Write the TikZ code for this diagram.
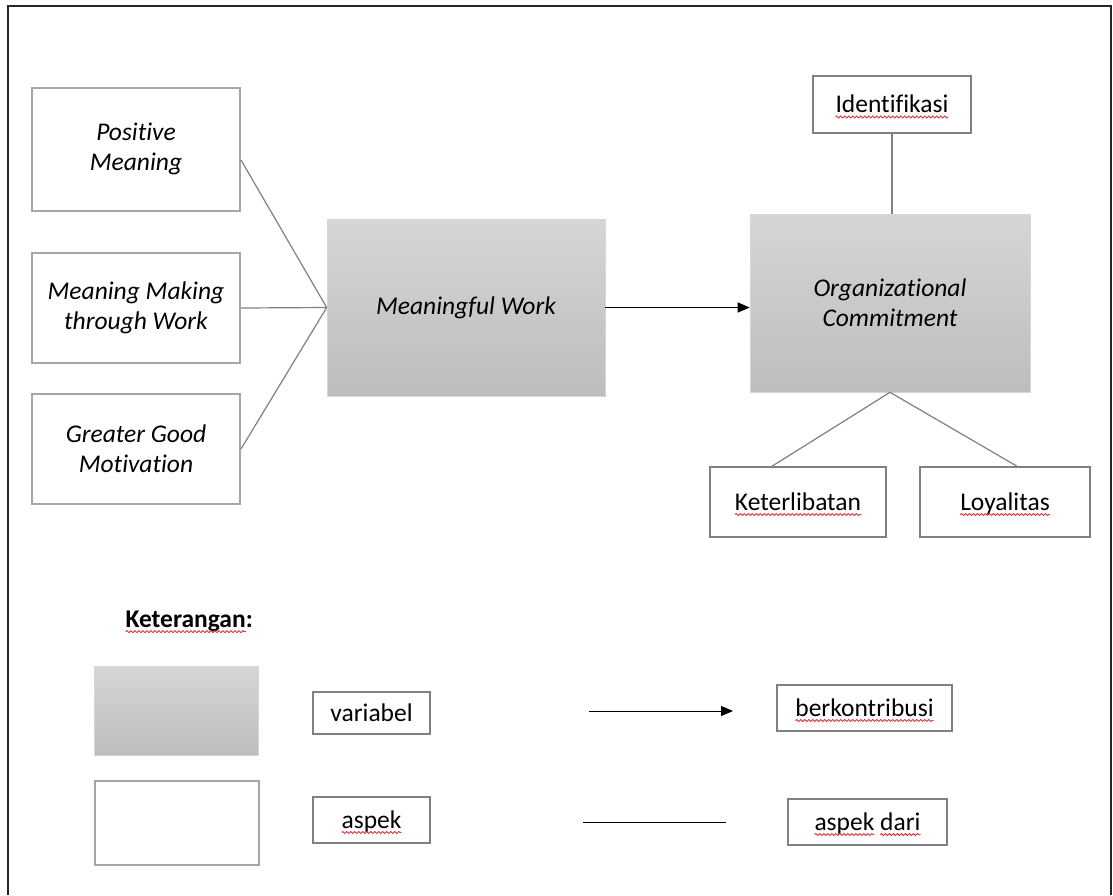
\documentclass[tikz,border=0pt]{standalone}
\usepackage{fontspec}
\setmainfont{Carlito}[Ligatures=NoCommon]
\usetikzlibrary{arrows.meta,positioning,decorations.pathmorphing}

\definecolor{boxline}{HTML}{A6A6A6}
\definecolor{linkgray}{HTML}{808080}
\definecolor{topgray}{HTML}{D6D6D6}
\definecolor{botgray}{HTML}{BDBDBD}
\definecolor{spellred}{HTML}{E5323C}

\newcommand{\boxfont}{\fontsize{25.5}{30}\selectfont}
% red wavy spell-check line under a word
\newcommand{\typo}[1]{\tikz[baseline=(w.base)]{\node[inner sep=0pt,outer sep=0pt,
    minimum width=0pt,minimum height=0pt] (w) {#1};
  \draw[overlay,spellred,line width=.9pt,decorate,
    decoration={snake,amplitude=1pt,segment length=4pt}]
    ([yshift=-4.5pt]w.base west) -- ([yshift=-4.5pt]w.base east);}}

\begin{document}
\begin{tikzpicture}[x=1pt,y=-1pt,
    aspekbox/.style={draw=boxline,line width=2pt,fill=white,minimum width=208pt,
                     minimum height=110pt,align=center,font=\boxfont\itshape},
    varbox/.style={top color=topgray,bottom color=botgray,draw=topgray,line width=.6pt,
                   align=center,font=\boxfont\itshape},
    smallbox/.style={draw=linkgray,line width=1.5pt,fill=white,inner sep=0pt,font=\boxfont,
                     text height=20pt,text depth=4pt},
    link/.style={draw=linkgray,line width=1.2pt},
    arr/.style={-{Triangle[length=12pt,width=10pt]},line width=1pt}]
  \useasboundingbox (0,0) rectangle (1113,895);
  \draw[line width=1.5pt,black!85] (8,895) -- (8,6) -- (1111,6) -- (1111,895);

  % aspects of meaningful work
  \node [aspekbox,minimum height=123pt] (pos) at (136,149) {Positive\\Meaning};
  \node [aspekbox]                      (mmw) at (136,308)   {Meaning Making\\through Work};
  \node [aspekbox]                      (ggm) at (136,449)   {Greater Good\\Motivation};

  % variables
  \node [varbox,minimum width=278pt,minimum height=177pt] (mw) at (466,307.5) {Meaningful Work};
  \node [varbox,minimum width=280pt,minimum height=178pt] (oc) at (890,303)   {Organizational\\Commitment};

  % aspects of organizational commitment
  \node [smallbox,minimum width=158pt,minimum height=57pt] (idf) at (892,104.5) {\typo{Identifikasi}};
  \node [smallbox,minimum width=176pt,minimum height=70pt] (ktl) at (798,502)   {\typo{Keterlibatan}};
  \node [smallbox,minimum width=170pt,minimum height=70pt] (loy) at (1005,502)  {\typo{Loyalitas}};

  \draw [link] ([yshift=-11pt]pos.east) -- (mw.west)
               (mmw.east) -- (mw.west)
               (ggm.east) -- (mw.west);
  \draw [arr] (mw.east) -- (mw.east -| oc.west);
  \draw [link] (idf.south) -- (idf.south |- oc.north);
  \draw [link] (oc.south) -- ([xshift=-26pt]ktl.north)
               (oc.south) -- ([xshift=12pt]loy.north);

  % legend
  \node [anchor=west,font=\boxfont\bfseries] (ket) at (122,621) {\typo{Keterangan}:};
  \node [varbox,minimum width=164pt,minimum height=89pt] (lvar) at (176,710.5) {};
  \node [aspekbox,minimum width=164pt,minimum height=84pt] (lasp) at (177,823) {};
  \node [smallbox,minimum width=117pt,minimum height=42pt] (tvar) at (371.5,713) {variabel};
  \node [smallbox,minimum width=117pt,minimum height=46pt] (tasp) at (371.5,820) {\typo{aspek}};
  \coordinate (a1) at (589,711);
  \coordinate (a2) at (733,711);
  \coordinate (l1) at (583,822);
  \coordinate (l2) at (726,822);
  \draw [arr] (a1) -- (a2);
  \draw [line width=1pt] (l1) -- (l2);
  \node [smallbox,minimum width=175pt,minimum height=46pt] (tcon) at (864.5,708) {\typo{berkontribusi}};
  \node [smallbox,minimum width=159pt,minimum height=46pt] (tdar) at (867.5,822) {\typo{aspek} \typo{dari}};
\end{tikzpicture}
\end{document}
